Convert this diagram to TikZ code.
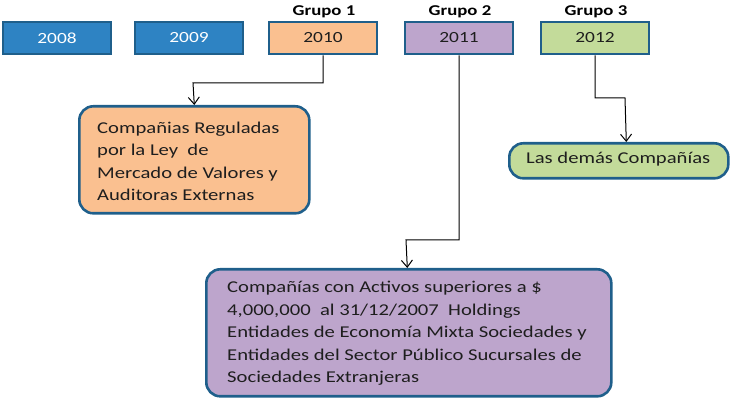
\documentclass[tikz,border=0pt]{standalone}
\usepackage{fontspec}
\setmainfont[FakeStretch=1.25]{Carlito}
\usetikzlibrary{arrows.meta}
\definecolor{yblue}{HTML}{2E83C3}
\definecolor{bord}{HTML}{1F5F8B}
\definecolor{orng}{HTML}{FAC090}
\definecolor{purp}{HTML}{BDA5CC}
\definecolor{grn}{HTML}{C3DB9A}
\definecolor{txt}{HTML}{1E1E1E}
\tikzset{
  yearbox/.style={draw=bord, line width=2.6pt, minimum width=108pt, minimum height=32pt, inner sep=0pt, font=\fontsize{15.5}{18}\selectfont},
  grp/.style={font=\bfseries\fontsize{15}{18}\selectfont, text=black},
  bigbox/.style={draw=bord, line width=2.6pt, rounded corners=14pt, align=left, text=txt, anchor=north west, inner sep=0pt},
  btext/.style={anchor=north west, align=left, text=txt, inner sep=0pt},
  conn/.style={draw=black, line width=1pt, -{Straight Barb[length=7pt,width=11pt]}}
}
\begin{document}
\begin{tikzpicture}[x=1pt,y=1pt]
\useasboundingbox (0,0) rectangle (742,-403);
\node[yearbox, fill=yblue, text=white] (y8) at (57,-38) {2008};
\node[yearbox, fill=yblue, text=white] (y9) at (189,-38) {2009};
\node[yearbox, fill=orng, text=txt] (y10) at (323,-38) {2010};
\node[yearbox, fill=purp, text=txt] (y11) at (459,-38) {2011};
\node[yearbox, fill=grn, text=txt] (y12) at (595,-38) {2012};
\node[grp] (g1) at (324,-12) {Grupo 1};
\node[grp] (g2) at (460,-12) {Grupo 2};
\node[grp] (g3) at (596,-12) {Grupo 3};
% box 1
\node[bigbox, fill=orng, minimum width=230pt, minimum height=107pt] (c1) at (78,-105) {};
\node[btext, font=\fontsize{16.5}{22.3}\selectfont] (t1) at (97,-122) {Compañias Reguladas\\por la Ley~ de\\Mercado de Valores y\\Auditoras Externas};
% box 2
\node[bigbox, fill=purp, minimum width=405pt, minimum height=127pt] (c2) at (205,-268) {};
\node[btext, font=\fontsize{16.5}{22.5}\selectfont] (t2) at (227,-281) {Compañías con Activos superiores a \$\\4,000,000~ al 31/12/2007~ Holdings\\Entidades de Economía Mixta Sociedades y\\Entidades del Sector Público Sucursales de\\Sociedades Extranjeras};
% box 3
\node[bigbox, fill=grn, minimum width=219pt, minimum height=35pt] (c3) at (508,-142) {};
\node[text=txt, inner sep=0pt, font=\fontsize{16.5}{20}\selectfont, anchor=west] (t3) at (526,-159.5) {Las demás Compañías};
% connectors
\draw[conn] (y10.south) |- (193,-83) -- (c1.north);
\draw[conn] (y11.south) |- (406,-240) -- ([xshift=-1.5pt]c2.north);
\draw[conn] (y12.south) |- (625,-98) -- ([xshift=7.5pt]c3.north);
\end{tikzpicture}
\end{document}
